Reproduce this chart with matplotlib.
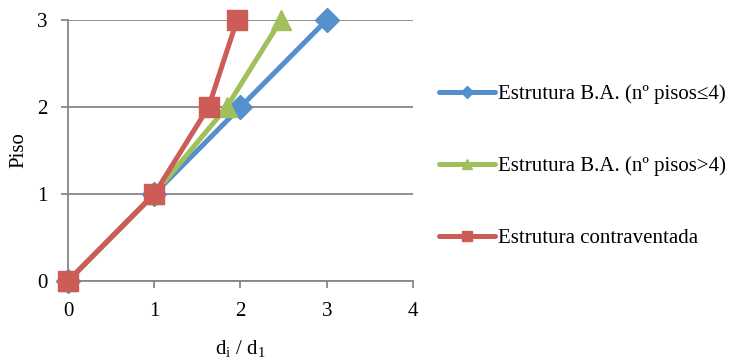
import matplotlib
matplotlib.use('Agg')
from matplotlib import pyplot as plt

# values
piso = [0, 1, 2, 3]
ba_menor = [0, 1, 2, 3]           # Estrutura B.A. (nº pisos<=4)
ba_maior = [0, 1, 1.84, 2.47]     # Estrutura B.A. (nº pisos>4)
contravent = [0, 1, 1.63, 1.96]   # Estrutura contraventada
labels = ['Estrutura B.A. (nº pisos≤4)', 'Estrutura B.A. (nº pisos>4)', 'Estrutura contraventada']
xticks = [0, 1, 2, 3, 4]
yticks = [0, 1, 2, 3]

plt.rcParams['font.family'] = ['Liberation Serif', 'DejaVu Serif']
plt.rcParams['font.size'] = 15
plt.rcParams['mathtext.default'] = 'regular'

fig = plt.figure(figsize=(7.33, 3.6), dpi=100)
ax = fig.add_axes([0.0928, 0.2194, 0.4706, 0.725])

grey = '#878787'
lines = []
lines += ax.plot(ba_menor, piso, color='#5690CC', lw=3.6, marker='D', ms=12, clip_on=False, zorder=3,
                 solid_capstyle='round')
lines += ax.plot(ba_maior, piso, color='#A0C05C', lw=3.6, marker='^', ms=14, clip_on=False, zorder=4,
                 solid_capstyle='round')
lines += ax.plot(contravent, piso, color='#CD5C57', lw=3.6, marker='s', ms=14, clip_on=False, zorder=5,
                 solid_capstyle='round')

ax.set_xlim(0, 4)
ax.set_ylim(0, 3)
ax.set_xticks(xticks)
ax.set_yticks(yticks)
ax.yaxis.grid(True, color=grey, lw=1.3)
ax.set_axisbelow(True)
for s in ['top', 'right']:
    ax.spines[s].set_visible(False)
for s in ['left', 'bottom']:
    ax.spines[s].set_color(grey)
    ax.spines[s].set_linewidth(1.3)
ax.tick_params(axis='both', color=grey, width=1.3, length=5, direction='out')
ax.tick_params(axis='x', pad=10)
ax.tick_params(axis='y', pad=10)

ax.set_xlabel(r'd$_{i}$ / d$_{1}$', labelpad=12)
ax.set_ylabel('Piso', labelpad=6)

fig.legend(lines, labels, loc='upper left', bbox_to_anchor=(0.599, 0.765), frameon=False,
           markerscale=0.5, handlelength=2.7, handletextpad=0.15, labelspacing=2.5,
           borderaxespad=0, borderpad=0)

plt.savefig('out.png', dpi=100)
